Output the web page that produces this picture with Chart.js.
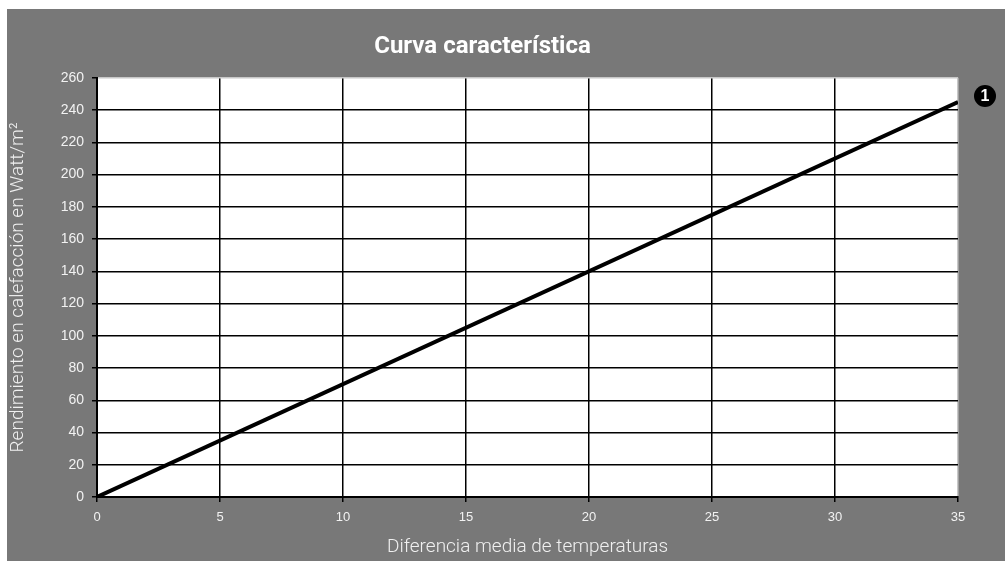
<!DOCTYPE html>
<html>
<head>
<meta charset="utf-8">
<script src="https://cdn.jsdelivr.net/npm/chart.js@4.4.0/dist/chart.umd.min.js"></script>
<style>
html,body{margin:0;padding:0;background:#fff;}
#wrap{position:absolute;left:7px;top:9px;width:998px;height:552px;background:#787878;}
</style>
</head>
<body>
<div id="wrap"><canvas id="c" width="998" height="552"></canvas></div>
<script>
const xValues = [0, 35];
const yValues = [0, 245];
const xTicks = [0, 5, 10, 15, 20, 25, 30, 35];
const yTicks = [0, 20, 40, 60, 80, 100, 120, 140, 160, 180, 200, 220, 240, 260];
const titleText = 'Curva característica';
const xTitle = 'Diferencia media de temperaturas';
const yTitle = 'Rendimiento en calefacción en Watt/m²';
const markerLabel = '1';

const plotBg = {
  id: 'plotBg',
  beforeDraw(chart) {
    const a = chart.chartArea, ctx = chart.ctx;
    ctx.save();
    ctx.fillStyle = '#fff';
    ctx.fillRect(a.left, a.top, a.right - a.left, a.bottom - a.top);
    ctx.restore();
  }
};

const markerPlugin = {
  id: 'marker',
  afterDatasetsDraw(chart) {
    const meta = chart.getDatasetMeta(0);
    const pt = meta.data[meta.data.length - 1];
    const ctx = chart.ctx;
    const cx = chart.chartArea.right + 27;
    const cy = pt.y - 6;
    ctx.save();
    ctx.fillStyle = '#000';
    ctx.beginPath();
    ctx.arc(cx, cy, 11, 0, Math.PI * 2);
    ctx.fill();
    ctx.fillStyle = '#fff';
    ctx.font = 'bold 16px "Liberation Sans"';
    ctx.textAlign = 'center';
    ctx.textBaseline = 'middle';
    ctx.fillText(markerLabel, cx, cy + 1);
    ctx.restore();
  }
};

new Chart(document.getElementById('c'), {
  type: 'scatter',
  data: {
    datasets: [{
      data: xValues.map((x, i) => ({x: x, y: yValues[i]})),
      showLine: true,
      borderColor: '#000',
      borderWidth: 4,
      pointRadius: 0,
      fill: false
    }]
  },
  options: {
    responsive: false,
    animation: false,
    layout: {padding: {top: 0, right: 47, bottom: 0, left: 0}},
    plugins: {
      legend: {display: false},
      tooltip: {enabled: false},
      title: {
        display: true,
        text: titleText,
        color: '#fff',
        font: {family: 'Roboto, sans-serif', size: 24, weight: 'bold'},
        padding: {top: 24, bottom: 16}
      }
    },
    scales: {
      x: {
        type: 'linear',
        min: 0, max: 35,
        afterBuildTicks: s => { s.ticks = xTicks.map(v => ({value: v})); },
        afterFit: s => { s.height = 64; },
        grid: {
          color: c => c.tick && c.tick.value === 35 ? '#c8c8c8' : '#000',
          lineWidth: 1.5,
          tickLength: 5,
          tickColor: '#000'
        },
        border: {color: '#000', width: 2},
        ticks: {color: '#f2f2f2', font: {family: '"Liberation Sans"', size: 13}, padding: 8, maxRotation: 0},
        title: {
          display: true, text: xTitle, color: '#f0f0f0',
          font: {family: 'Roboto, sans-serif', size: 19, weight: 300},
          padding: {top: 0, bottom: 2}
        }
      },
      y: {
        type: 'linear',
        min: 0, max: 260,
        afterBuildTicks: s => { s.ticks = yTicks.map(v => ({value: v})); },
        afterFit: s => { s.width = 90; },
        grid: {
          color: c => c.tick && c.tick.value === 260 ? '#c8c8c8' : '#000',
          lineWidth: 1.5,
          tickLength: 5,
          tickColor: '#000'
        },
        border: {color: '#000', width: 2},
        ticks: {color: '#f2f2f2', font: {family: '"Liberation Sans"', size: 14}, padding: 8},
        title: {
          display: true, text: yTitle, color: '#f0f0f0',
          font: {family: 'Roboto, sans-serif', size: 19, weight: 300},
          padding: {top: 0, bottom: 0}
        }
      }
    }
  },
  plugins: [plotBg, markerPlugin]
});
</script>
</body>
</html>
